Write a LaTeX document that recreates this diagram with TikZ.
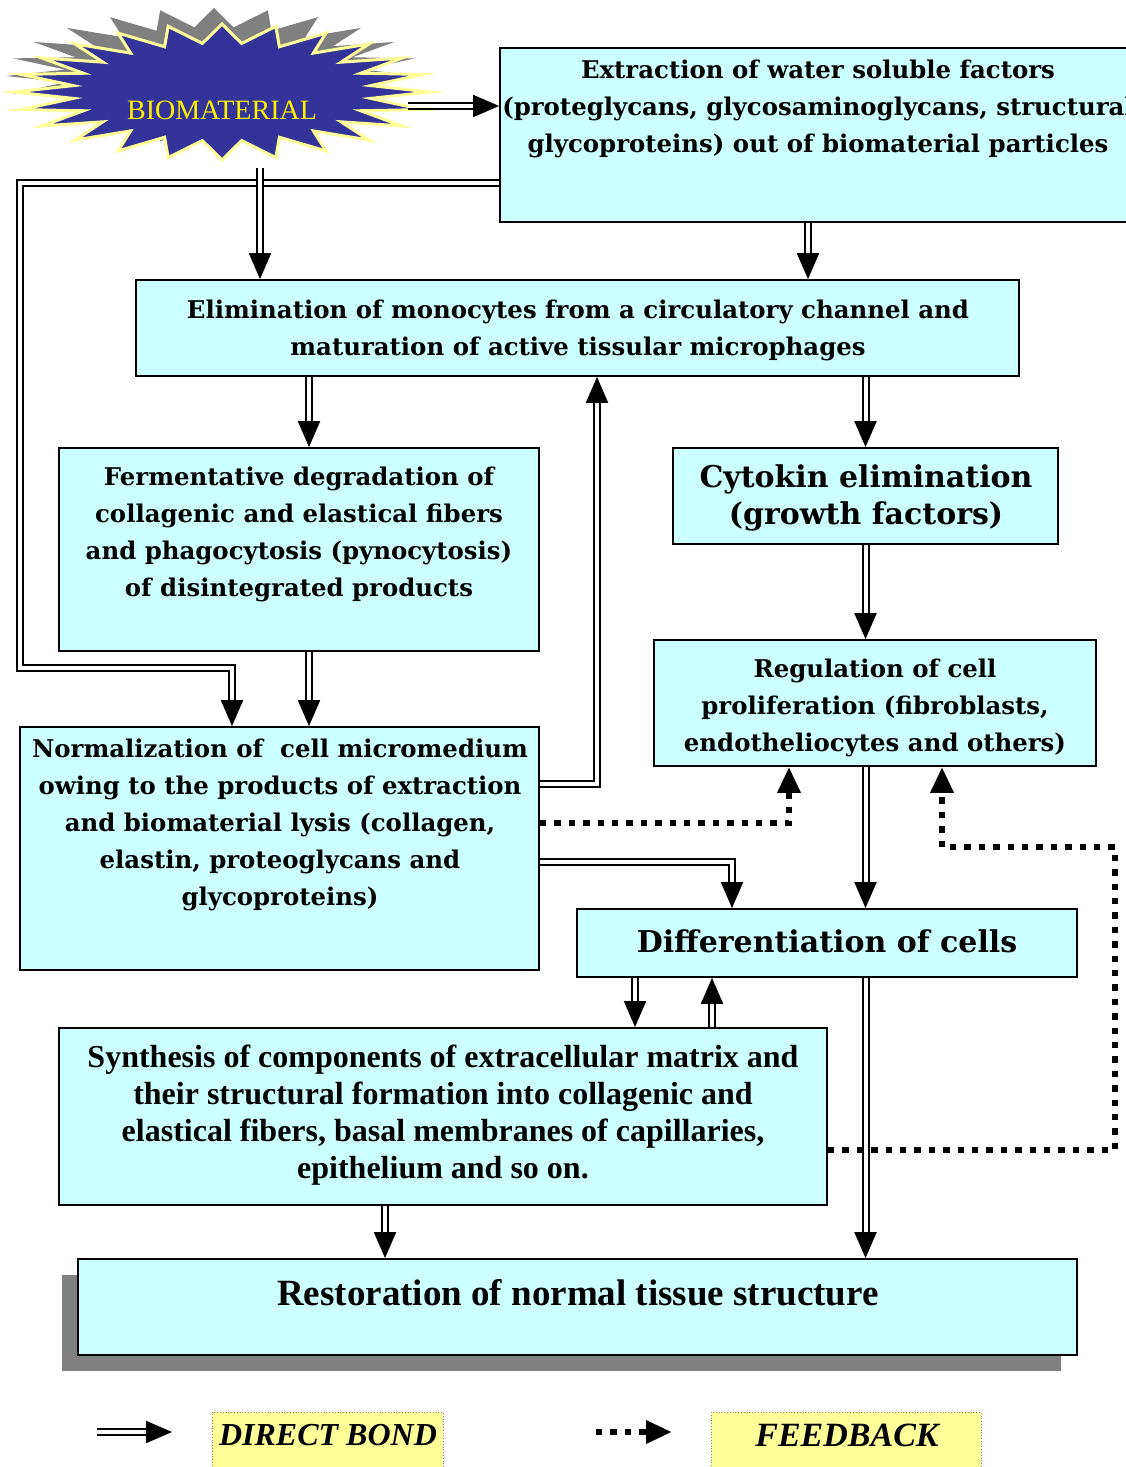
\documentclass[tikz,border=0pt]{standalone}
\usepackage{fontspec}
\usepackage{graphicx}
\setmainfont{Liberation Serif}
\newfontfamily\cenfont{DejaVu Serif}
\usetikzlibrary{arrows.meta,shadows}
\definecolor{boxcyan}{HTML}{CCFFFF}
\definecolor{starblue}{HTML}{333399}
\definecolor{staryellow}{HTML}{FFFF99}
\definecolor{legyellow}{HTML}{FFFF99}
\definecolor{shadowgray}{HTML}{808080}
\tikzset{
  box/.style={draw, fill=boxcyan, line width=0.9pt, inner sep=0pt},
  txt/.style={align=center, inner sep=0pt, font=\cenfont\bfseries\fontsize{12.2}{18.5}\selectfont},
  widetxt/.style={align=center, inner sep=0pt, font=\cenfont\bfseries\fontsize{15}{18.5}\selectfont},
  timestxt/.style={align=center, inner sep=0pt, font=\bfseries\fontsize{16}{18.5}\selectfont},
  dbl/.style={double, double distance=2pt, line width=1pt, -{Triangle[width=11pt,length=13pt]}},
  fb/.style={line width=3.2pt, dash pattern=on 3.2pt off 4pt, -{Triangle[width=11pt,length=13pt]}},
  legbox/.style={draw=gray, densely dotted, fill=legyellow, inner sep=0pt},
}
\begin{document}
\begin{tikzpicture}[x=0.5pt,y=-0.5pt]
\useasboundingbox (0,0) rectangle (1125,1467);
\fill[white] (0,0) rectangle (1125,1467);

% biomaterial star
\fill[shadowgray, shift={(-8,-16)}] (430,92)
  \foreach \i in {1,...,47}{ -- ({222+(208-58*mod(\i,2))*cos(\i*7.5)},{92+(68-19*mod(\i,2))*sin(\i*7.5)}) } -- cycle;
\filldraw[fill=starblue, draw=staryellow, line width=1.5pt] (430,92)
  \foreach \i in {1,...,47}{ -- ({222+(208-58*mod(\i,2))*cos(\i*7.5)},{92+(68-19*mod(\i,2))*sin(\i*7.5)}) } -- cycle;
\node[text=yellow, font=\fontsize{14}{16}\selectfont, inner sep=0pt] (bio) at (222,110) {BIOMATERIAL};
\coordinate (bioR) at (408,106);
\coordinate (bioB) at (260,168);

% boxes
\node[box, minimum width=317.5pt, minimum height=87pt] (extr) at (817.5,135) {};
\node[txt] (extrT) at (818,109) {Extraction of water soluble factors\\(proteglycans, glycosaminoglycans, structural\\glycoproteins) out of biomaterial particles};
\node[box, minimum width=441.5pt, minimum height=48pt] (elim) at (577.5,328) {};
\node[txt] (elimT) at (578,330) {Elimination of monocytes from a circulatory channel and\\maturation of active tissular microphages};
\node[box, minimum width=240pt, minimum height=101.5pt] (ferm) at (299,549.5) {};
\node[txt] (fermT) at (299,534) {Fermentative degradation of\\collagenic and elastical fibers\\and phagocytosis (pynocytosis)\\of disintegrated products};
\node[box, minimum width=192.5pt, minimum height=48pt] (cyto) at (865.5,496) {};
\node[widetxt] (cytoT) at (866,498) {Cytokin elimination\\(growth factors)};
\node[box, minimum width=221pt, minimum height=63pt] (regu) at (875,703) {};
\node[txt] (reguT) at (875,708) {Regulation of cell\\proliferation (fibroblasts,\\endotheliocytes and others)};
\node[box, minimum width=259.5pt, minimum height=121.5pt] (norm) at (279.5,848.5) {};
\node[txt] (normT) at (280,825) {Normalization of\ \ cell micromedium\\owing to the products of extraction\\and biomaterial lysis (collagen,\\elastin, proteoglycans and\\glycoproteins)};
\node[box, minimum width=250pt, minimum height=34pt] (diff) at (827,943) {};
\node[widetxt] (diffT) at (827,941) {Differentiation of cells};
\node[box, minimum width=384pt, minimum height=88.5pt] (synt) at (443,1116.5) {};
\node[timestxt] (syntT) at (443,1115) {Synthesis of components of extracellular matrix and\\their structural formation into collagenic and\\elastical fibers, basal membranes of capillaries,\\epithelium and so on.};
\node[box, minimum width=499.5pt, minimum height=48pt,
  general shadow={fill=shadowgray, shadow xshift=-8pt, shadow yshift=-8pt}] (rest) at (577.5,1307) {};
\node[font=\bfseries\fontsize{18.5}{22}\selectfont, inner sep=0pt] (restT) at (578,1293) {Restoration of normal tissue structure};

% bend points
\coordinate (lpA) at (20,183);
\coordinate (lpB) at (20,668);
\coordinate (lpC) at (232,668);
\coordinate (colEx) at (808,0);
\coordinate (colFe) at (309,0);
\coordinate (colUp) at (597,784);
\coordinate (dotA) at (789,823);
\coordinate (colDf) at (732,862);
\coordinate (colSy) at (635,0);
\coordinate (colBk) at (712,0);
\coordinate (colRe) at (385,0);
\coordinate (fbA) at (1115,1150);
\coordinate (fbB) at (1115,847);
\coordinate (fbC) at (942,847);

% direct bonds
\draw[dbl] (bioR) -- (bioR -| extr.west);
\draw[dbl] (lpA -| extr.west) -- (lpA) -- (lpB) -- (lpC) -- (lpC |- norm.north);
\draw[dbl] (bioB) -- (bioB |- elim.north);
\draw[dbl] (extr.south -| colEx) -- (elim.north -| colEx);
\draw[dbl] (elim.south -| colFe) -- (ferm.north -| colFe);
\draw[dbl] (elim.south -| cyto) -- (cyto.north);
\draw[dbl] (ferm.south -| colFe) -- (norm.north -| colFe);
\draw[dbl] (cyto.south) -- (cyto.south |- regu.north);
\draw[dbl] (norm.east |- colUp) -- (colUp) -- (colUp |- elim.south);
\draw[dbl] (norm.east |- colDf) -- (colDf) -- (colDf |- diff.north);
\draw[dbl] (cyto.south |- regu.south) -- (cyto.south |- diff.north);
\draw[dbl] (diff.south -| colSy) -- (synt.north -| colSy);
\draw[dbl] (synt.north -| colBk) -- (diff.south -| colBk);
\draw[dbl] (cyto.south |- diff.south) -- (cyto.south |- rest.north);
\draw[dbl] (synt.south -| colRe) -- (rest.north -| colRe);

% feedback
\draw[fb] (norm.east |- dotA) -- (dotA) -- (dotA |- regu.south);
\draw[fb] (synt.east |- fbA) -- (fbA) -- (fbB) -- (fbC) -- (fbC |- regu.south);

% legend
\coordinate (lgA) at (97,1432);
\coordinate (lgB) at (172,1432);
\coordinate (lgC) at (596,1432);
\coordinate (lgD) at (672,1432);
\draw[dbl] (lgA) -- (lgB);
\draw[fb] (lgC) -- (lgD);
\node[legbox, minimum width=115.5pt, minimum height=31pt] (lgDir) at (327.5,1443) {};
\node[font=\bfseries\itshape\fontsize{16}{18}\selectfont, inner sep=0pt] (lgDirT) at (328,1435) {DIRECT BOND};
\node[legbox, minimum width=135pt, minimum height=31pt] (lgFb) at (846,1443) {};
\node[font=\bfseries\itshape\fontsize{17}{18}\selectfont, inner sep=0pt] (lgFbT) at (847,1435) {FEEDBACK};
\end{tikzpicture}
\end{document}
